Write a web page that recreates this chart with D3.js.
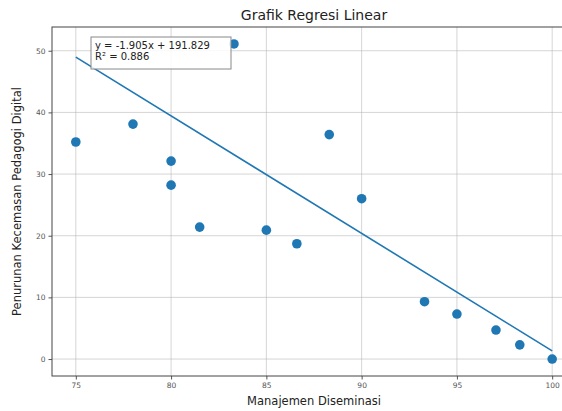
<!DOCTYPE html>
<html>
<head>
<meta charset="utf-8">
<script src="https://cdn.jsdelivr.net/npm/d3@7"></script>
<style>
  body { margin: 0; background: #fff; overflow: hidden; }
  svg { display: block; font-family: "DejaVu Sans", sans-serif; }
</style>
</head>
<body>
<script>
const width = 562
const height = 411

// data
const manajemen = [75, 78, 80, 80, 81.5, 83.3, 85, 86.6, 88.3, 90, 93.3, 95, 97.05, 98.3, 100]
const penurunan = [35.2, 38.1, 32.1, 28.2, 21.4, 51.1, 20.9, 18.7, 36.4, 26.0, 9.3, 7.3, 4.7, 2.3, 0]
const xTicks = [75, 80, 85, 90, 95, 100]
const yTicks = [0, 10, 20, 30, 40, 50]
const slope = -1.905
const intercept = 191.829
const eqText = ["y = -1.905x + 191.829", "R² = 0.886"]

const data = manajemen.map((x, i) => ({ x: x, y: penurunan[i] }))

const m = { left: 52, top: 27, right: 576, bottom: 376 }

const svg = d3.select('body').append('svg')
        .attr('width', width)
        .attr('height', height)

const xScale = d3.scaleLinear()
        .domain([73.75, 101.25])
        .range([m.left, m.right])

const yScale = d3.scaleLinear()
        .domain([-2.75, 53.85])
        .range([m.bottom, m.top])

// grid
svg.append('g')
        .selectAll('line')
        .data(xTicks)
        .join('line')
        .attr('x1', d => xScale(d)).attr('x2', d => xScale(d))
        .attr('y1', m.top).attr('y2', m.bottom)
        .attr('stroke', '#b0b0b0').attr('stroke-opacity', 0.6).attr('stroke-width', 0.9)

svg.append('g')
        .selectAll('line')
        .data(yTicks)
        .join('line')
        .attr('x1', m.left).attr('x2', m.right)
        .attr('y1', d => yScale(d)).attr('y2', d => yScale(d))
        .attr('stroke', '#b0b0b0').attr('stroke-opacity', 0.6).attr('stroke-width', 0.9)

// axes
const xAxis = d3.axisBottom(xScale).tickValues(xTicks).tickSize(3.5).tickPadding(3)
const gx = svg.append('g')
        .attr('transform', 'translate(0,' + m.bottom + ')')
        .call(xAxis)

const yAxis = d3.axisLeft(yScale).tickValues(yTicks).tickSize(3.5).tickPadding(3)
const gy = svg.append('g')
        .attr('transform', 'translate(' + m.left + ',0)')
        .call(yAxis)

for (const g of [gx, gy]) {
    g.select('.domain').remove()
    g.selectAll('line').attr('stroke', '#555')
    g.selectAll('text').attr('fill', '#555').style('font-size', '7.5px').style('font-family', '"DejaVu Sans", sans-serif')
}

// frame
svg.append('rect')
        .attr('x', m.left).attr('y', m.top)
        .attr('width', m.right - m.left).attr('height', m.bottom - m.top)
        .attr('fill', 'none').attr('stroke', '#444').attr('stroke-width', 1)

// regression line
const xMin = d3.min(manajemen), xMax = d3.max(manajemen)
svg.append('line')
        .attr('x1', xScale(xMin)).attr('y1', yScale(slope * xMin + intercept))
        .attr('x2', xScale(xMax)).attr('y2', yScale(slope * xMax + intercept))
        .attr('stroke', '#1f77b4').attr('stroke-width', 1.6)

// points
svg.selectAll('circle.dot')
        .data(data)
        .join('circle')
        .attr('class', 'dot')
        .attr('r', 4.8)
        .attr('cx', d => xScale(d.x))
        .attr('cy', d => yScale(d.y))
        .attr('fill', '#1f77b4')

// equation box
const box = svg.append('g').attr('transform', 'translate(91,37)')
box.append('rect')
        .attr('width', 140).attr('height', 32)
        .attr('fill', '#fff').attr('fill-opacity', 0.85)
        .attr('stroke', '#888').attr('stroke-width', 1)
box.selectAll('text')
        .data(eqText)
        .join('text')
        .attr('x', 4)
        .attr('y', (d, i) => 12 + i * 10.5)
        .attr('fill', '#222')
        .style('font-size', '10px')
        .text(d => d)

// labels
svg.append('text')
        .attr('x', (m.left + m.right) / 2).attr('y', 20)
        .attr('text-anchor', 'middle')
        .attr('fill', '#222')
        .style('font-size', '14px')
        .text('Grafik Regresi Linear')

svg.append('text')
        .attr('x', (m.left + m.right) / 2).attr('y', 405)
        .attr('text-anchor', 'middle')
        .attr('fill', '#222')
        .style('font-size', '11.5px')
        .text('Manajemen Diseminasi')

svg.append('text')
        .attr('transform', 'translate(21,' + (m.top + m.bottom) / 2 + ') rotate(-90)')
        .attr('text-anchor', 'middle')
        .attr('fill', '#222')
        .style('font-size', '11.5px')
        .text('Penurunan Kecemasan Pedagogi Digital')
</script>
</body>
</html>
